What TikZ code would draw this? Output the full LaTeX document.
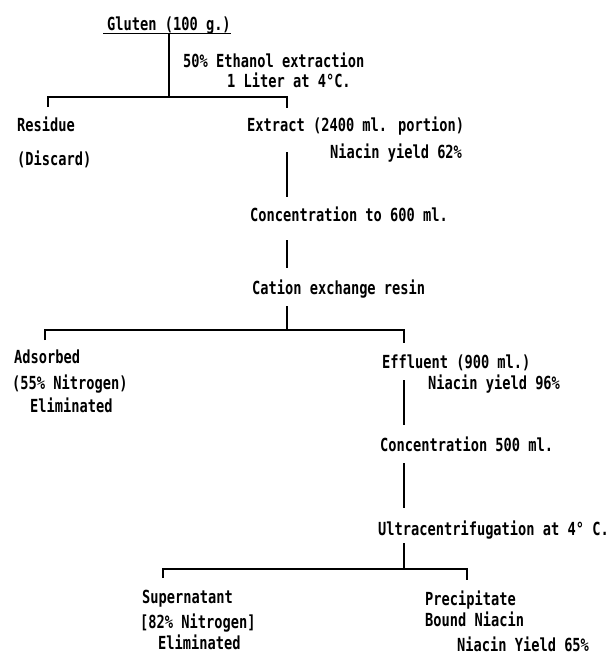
\documentclass[tikz,border=0pt]{standalone}
\usepackage{fontspec}
\newfontfamily\flowfont{DejaVu Sans Mono}[FakeStretch=0.76]
\usetikzlibrary{calc}
\tikzstyle{stage} = [%
	inner sep=0pt,
	anchor=base west,
	align=left,
	font=\flowfont\bfseries\fontsize{18}{21}\selectfont
]
\tikzstyle{flow line} = [%
	line width=1.1pt,
	line cap=butt
]

\begin{document}
\begin{tikzpicture}[x=1pt, y=-1pt]

\useasboundingbox (0,0) rectangle (612,665);

% gluten and the ethanol extraction (multi-line nodes sit on their last line)
\node[stage] (gluten) at (107,30) {Gluten (100 g.)};
\node[stage] (ethanol) at (183,87.5) {%
	50\% Ethanol extraction\\[-1pt]\hspace*{44pt}1 Liter at 4°C.
};
\node[stage] (residue) at (17,165.5) {Residue\\[13pt](Discard)};
\node[stage] (extract) at (247,158.5) {%
	Extract (2400 ml. portion)\\[6pt]\hspace*{83pt}Niacin yield 62\%
};

% concentration and resin
\node[stage] (conc1) at (250,221.5) {Concentration to 600 ml.};
\node[stage] (cation) at (252,294.5) {Cation exchange resin};
\node[stage] (adsorbed) at (12,412.5) {%
	\hspace*{2pt}Adsorbed\\[5pt](55\% Nitrogen)\\[2pt]\hspace*{18pt}Eliminated
};
\node[stage] (effluent) at (382,389.5) {%
	Effluent (900 ml.)\\\hspace*{46pt}Niacin yield 96\%
};
\node[stage] (conc2) at (380,451.5) {Concentration 500 ml.};
\node[stage] (ultra) at (378,535.5) {Ultracentrifugation at 4° C.};

% final fractions
\node[stage] (supernatant) at (140,649.5) {%
	\hspace*{2pt}Supernatant\\[4pt][82\% Nitrogen]\\\hspace*{18pt}Eliminated
};
\node[stage] (precipitate) at (425,651.5) {%
	Precipitate\\Bound Niacin\\[4pt]\hspace*{32pt}Niacin Yield 65\%
};

% split points
\coordinate (cut1 L) at (48,97);
\coordinate (cut1 R) at (287,97);
\coordinate (cut2 L) at (45,330);
\coordinate (cut2 R) at (404,330);
\coordinate (cut3 L) at (163,569);
\coordinate (cut3 R) at (467,569);

% connectors
\draw[flow line] ([xshift=-4pt]gluten.south west) -- (gluten.south east); % underline
\draw[flow line] (gluten.south) -- (gluten.south |- cut1 L);
\draw[flow line] ([yshift=-10pt]cut1 L) -- (cut1 L) -- (cut1 R) -- ([yshift=-11pt]cut1 R);
\draw[flow line] ([yshift=6.5pt]extract.base -| cut1 R) -- ([yshift=24.5pt]conc1.base -| cut1 R);
\draw[flow line] ([yshift=-18.5pt]conc1.base -| cut1 R) -- ([yshift=26.5pt]cation.base -| cut1 R);
\draw[flow line] ([yshift=-11.5pt]cation.base -| cut1 R) -- (cut1 R |- cut2 L);
\draw[flow line] ([yshift=-10pt]cut2 L) -- (cut2 L) -- (cut2 R) -- ([yshift=-13pt]cut2 R);
\draw[flow line] ([yshift=9.5pt]effluent.base -| cut2 R) -- ([yshift=26.5pt]conc2.base -| cut2 R);
\draw[flow line] ([yshift=-11.5pt]conc2.base -| cut2 R) -- ([yshift=27.5pt]ultra.base -| cut2 R);
\draw[flow line] ([yshift=-7.5pt]ultra.base -| cut2 R) -- (cut2 R |- cut3 L);
\draw[flow line] ([yshift=-9pt]cut3 L) -- (cut3 L) -- (cut3 R) -- ([yshift=-11pt]cut3 R);

\end{tikzpicture}
\end{document}
